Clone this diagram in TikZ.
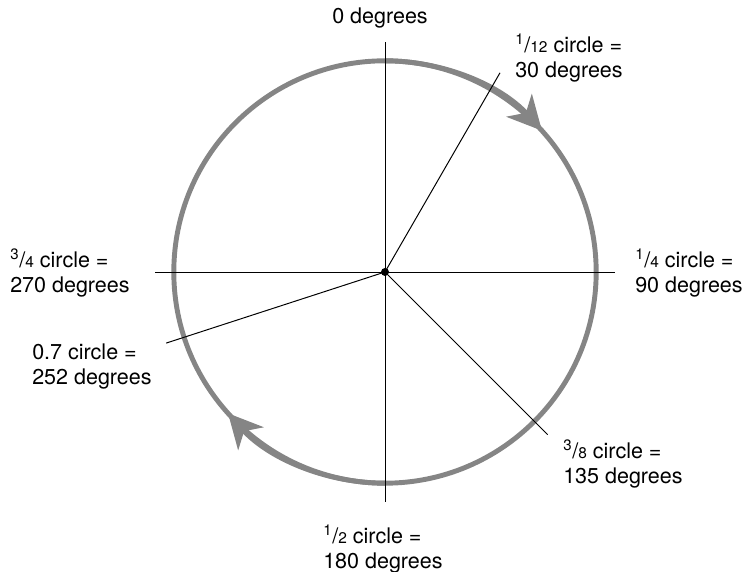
\documentclass[tikz,border=0pt]{standalone}
\usepackage{fontspec}
\setmainfont{TeX Gyre Heros}
\usetikzlibrary{arrows.meta}
\newcommand{\frc}[2]{\textsuperscript{#1}/{\fontsize{11pt}{11pt}\selectfont #2}}

\begin{document}
\begin{tikzpicture}[>=Stealth,
    ring/.style={line width=3.5pt, draw=black!48},
    spoke/.style={line width=0.7pt},
    lbl/.style={anchor=base west, align=left, inner sep=0pt,
      font=\fontsize{15.3pt}{18.4pt}\selectfont}]
  \useasboundingbox (-9.625,-7.5) rectangle (9.05,6.8);
  % circle and direction arrows
  \draw[ring] (0,0) circle (5.28);
  \draw[ring,-{Stealth[length=8.5mm,width=8.5mm,inset=2.5mm]}] (90:5.28) arc[start angle=90, end angle=42, radius=5.28];
  \draw[ring,-{Stealth[length=8.5mm,width=8.5mm,inset=2.5mm]}] (-90:5.28) arc[start angle=-90, end angle=-138, radius=5.28];

  % spokes
  \node[circle, fill, inner sep=0pt, minimum size=2mm] (o) at (0,0) {};
  \foreach \a/\n in {90/top, 60/e30, 0/e90, -45/e135, -90/e180, -162/e252, 180/e270}
    \coordinate (\n) at (\a:5.75);
  \foreach \n in {top, e30, e90, e135, e180, e252, e270}
    \draw[spoke] (o.center) -- (\n);

  % labels (base = last line)
  \node[lbl, anchor=base] (l0) at (-0.125,6.2) {0 degrees};
  \node[lbl] (l30) at (3.25,4.85) {\frc{1}{12} circle =\\30 degrees};
  \node[lbl] (l90) at (6.25,-0.525) {\frc{1}{4} circle =\\90 degrees};
  \node[lbl] (l270) at (-9.375,-0.525) {\frc{3}{4} circle =\\270 degrees};
  \node[lbl] (l252) at (-8.825,-2.825) {0.7 circle =\\252 degrees};
  \node[lbl] (l135) at (4.45,-5.3) {\frc{3}{8} circle =\\135 degrees};
  \node[lbl] (l180) at (-1.55,-7.425) {\frc{1}{2} circle =\\180 degrees};
\end{tikzpicture}
\end{document}
